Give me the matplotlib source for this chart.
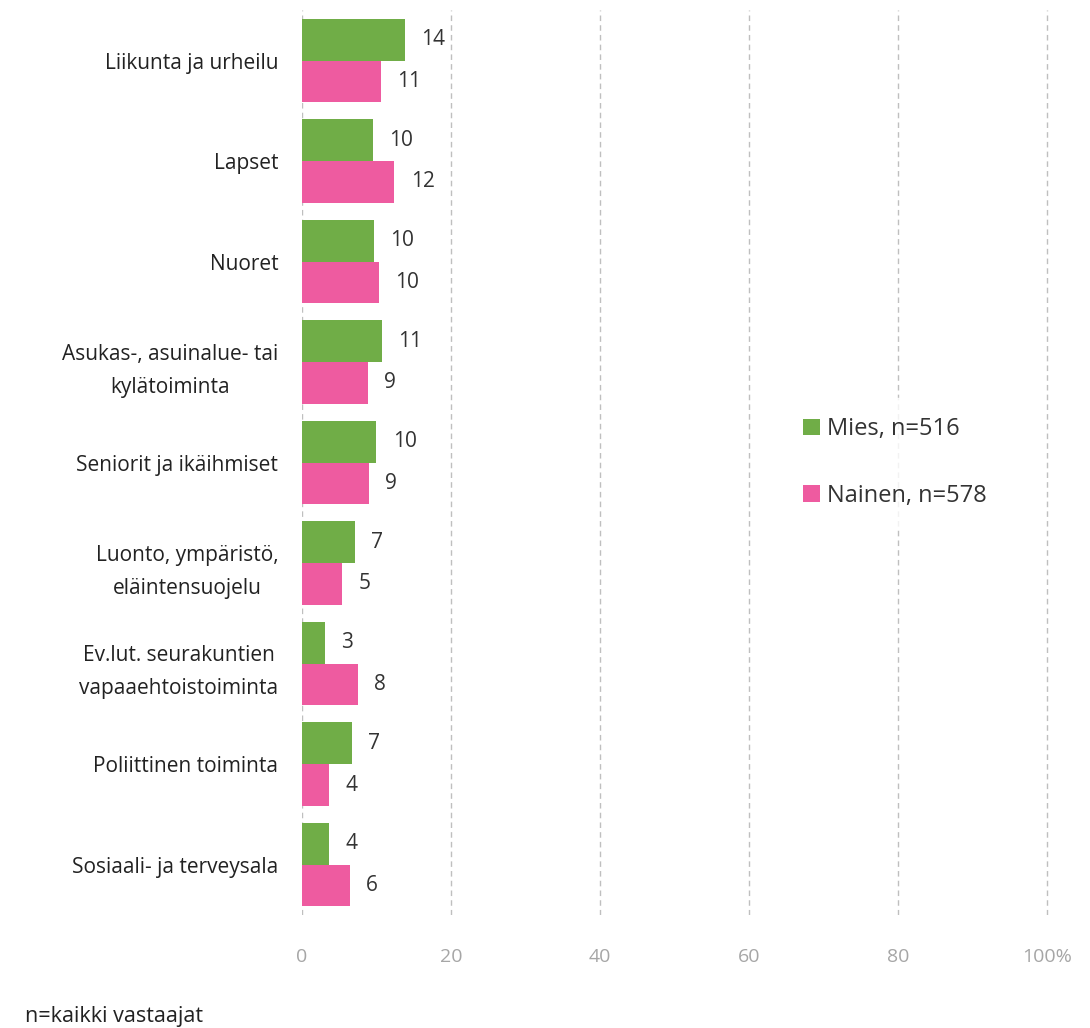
import numpy as np
import matplotlib.pyplot as plt

plt.rcParams['font.family'] = ['Open Sans', 'DejaVu Sans']

categories = ['Liikunta ja urheilu', 'Lapset', 'Nuoret',
              'Asukas-, asuinalue- tai\nkylätoiminta', 'Seniorit ja ikäihmiset',
              'Luonto, ympäristö,\neläintensuojelu', 'Ev.lut. seurakuntien\nvapaaehtoistoiminta',
              'Poliittinen toiminta', 'Sosiaali- ja terveysala']
mies = [13.8, 9.5, 9.6, 10.7, 10.0, 7.1, 3.1, 6.7, 3.6]
nainen = [10.6, 12.4, 10.3, 8.8, 9.0, 5.4, 7.5, 3.6, 6.4]
xticks = [0, 20, 40, 60, 80, 100]
xticklabels = ['0', '20', '40', '60', '80', '100%']

green = '#70ad47'
pink = '#ee5ba0'

fig = plt.figure(figsize=(10.9, 10.28), dpi=100)
ax = fig.add_axes([0.277, 0.110, 0.685, 0.880])

y = np.arange(len(categories))
h = 0.415
b1 = ax.barh(y - h / 2, mies, height=h, color=green, label='Mies, n=516')
b2 = ax.barh(y + h / 2, nainen, height=h, color=pink, label='Nainen, n=578')

for bars, vals in ((b1, mies), (b2, nainen)):
  for bar, v in zip(bars, vals):
    ax.text(v + 2.2, bar.get_y() + bar.get_height() / 2, '%d' % round(v),
            va='center', ha='left', fontsize=15, color='#333333')

ax.set_ylim(len(categories) - 0.5, -0.5)
ax.set_xlim(0, 100.15)
ax.set_yticks(y)
ax.set_yticklabels(categories, fontsize=15, color='#222222', ha='right')
for lab in ax.get_yticklabels():
  lab.set_multialignment('center')
  lab.set_linespacing(1.75)
ax.set_xticks(xticks)
ax.set_xticklabels(xticklabels, fontsize=14, color='#a6a6a6')
ax.tick_params(axis='y', length=0, pad=17)
ax.tick_params(axis='x', length=0, pad=24)
for s in ax.spines.values():
  s.set_visible(False)
ax.grid(axis='x', color='#bfbfbf', linestyle=(0, (4, 3)), linewidth=1)
ax.set_axisbelow(True)

leg = ax.legend(loc='center left', bbox_to_anchor=(0.63, 0.5), frameon=True,
                fontsize=17, handlelength=0.7, handleheight=0.7, handletextpad=0.3,
                labelspacing=1.8, borderpad=0.8, labelcolor='#333333')
leg.get_frame().set_facecolor('white')
leg.get_frame().set_edgecolor('white')

fig.text(0.023, 0.006, 'n=kaikki vastaajat', fontsize=15.5, color='#222222')

fig.savefig('out.png', dpi=100)
